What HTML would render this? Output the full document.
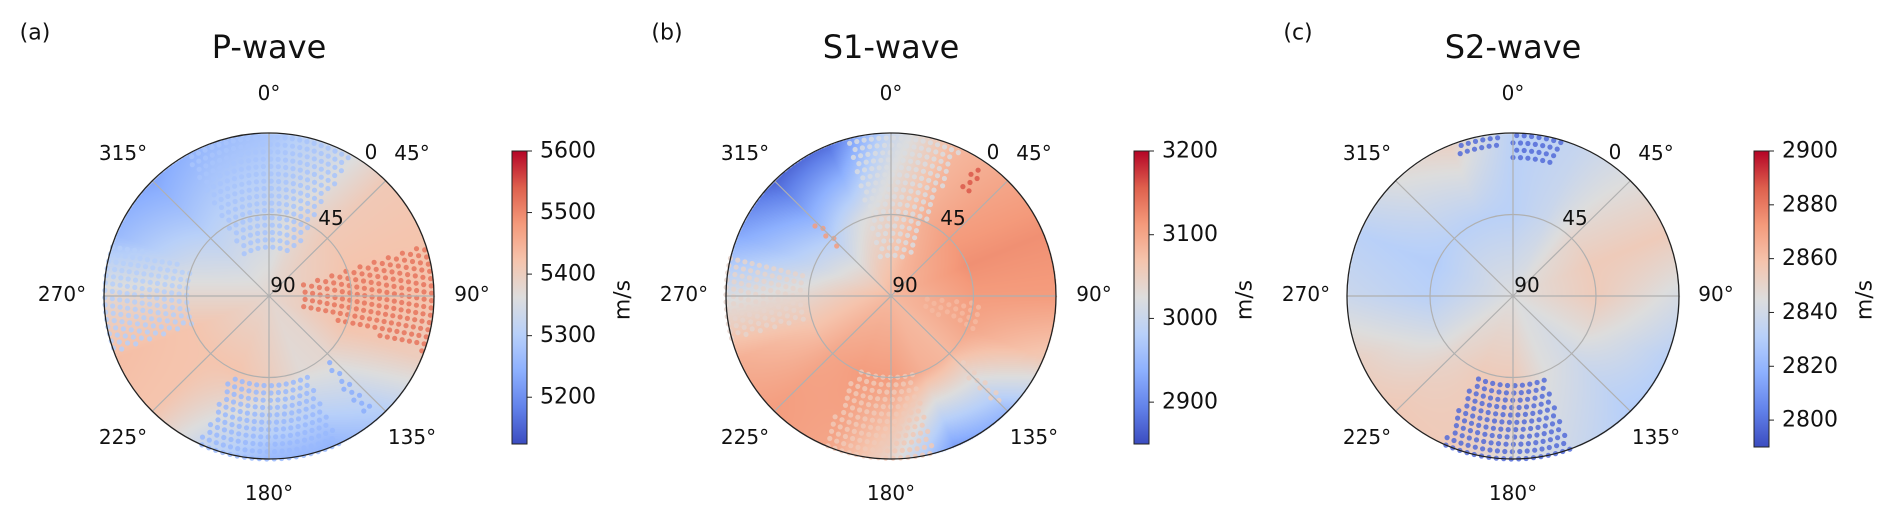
<!DOCTYPE html>
<html><head><meta charset="utf-8">
<style>
html,body{margin:0;padding:0;background:#fff;}
#wrap{position:relative;width:1892px;height:529px;overflow:hidden;}
canvas,svg{position:absolute;left:0;top:0;}
text{font-family:"DejaVu Sans","Liberation Sans",sans-serif;fill:#111;}
</style></head>
<body>
<div id="wrap">
<canvas id="cv" width="1892" height="529"></canvas>
<svg id="sv" width="1892" height="529" xmlns="http://www.w3.org/2000/svg"></svg>
</div>
<script>
// ---- data ----
const azGrid = [0,22.5,45,67.5,90,112.5,135,157.5,180,202.5,225,247.5,270,292.5,315,337.5];
const pCenter = 5380;
const pMid  = [5330,5380,5410,5420,5430,5420,5380,5370,5400,5420,5420,5420,5380,5340,5310,5320];
const pEdge = [5280,5330,5410,5420,5420,5400,5300,5250,5260,5320,5420,5430,5380,5260,5230,5260];
const s1Center = 3080;
const s1Mid  = [3050,3090,3110,3120,3110,3100,3080,3090,3110,3110,3100,3070,3040,3000,2980,3020];
const s1Edge = [3000,3080,3100,3120,3110,3060,2950,2920,3040,3100,3110,3090,3020,2930,2870,2880];
const s2Center = 2845;
const s2Mid  = [2832,2838,2850,2855,2855,2848,2840,2845,2855,2855,2850,2840,2832,2830,2832,2832];
const s2Edge = [2832,2836,2845,2855,2842,2832,2830,2838,2845,2855,2856,2852,2838,2832,2845,2852];
// scatter patches: [azStart, azEnd, rStart, rEnd, value]
const pPatches = [[330,390,0.3,1,5280],[250,290,0.5,1,5300],[155,205,0.55,1,5260],[72,110,0.22,1,5520],[138,142,0.55,0.95,5240]];
const s1Patches = [[345,385,0.25,1,3020],[255,285,0.55,1,3040],[95,112,0.22,0.55,3080],[165,205,0.5,1,3060],[313,317,0.45,0.65,3110],[133,137,0.6,0.95,3050],[33,37,0.8,0.95,3160]];
const s2Patches = [[0,18,0.85,1,2798],[340,356,0.93,1,2798],[160,205,0.55,1,2798]];
const pTicks = [5200,5300,5400,5500,5600];
const s1Ticks = [2900,3000,3100,3200];
const s2Ticks = [2800,2820,2840,2860,2880,2900];

const panels = [
 {id:'p',label:'(a)',title:'P-wave',cx:269,cy:296,rx:165,ry:163,center:pCenter,mid:pMid,edge:pEdge,patches:pPatches,vmin:5124,vmax:5600,ticks:pTicks,cbx:512,cbTop:151,cbBot:444,labx:35},
 {id:'s1',label:'(b)',title:'S1-wave',cx:891,cy:296,rx:165,ry:163,center:s1Center,mid:s1Mid,edge:s1Edge,patches:s1Patches,vmin:2850,vmax:3200,ticks:s1Ticks,cbx:1134,cbTop:151,cbBot:444,labx:667},
 {id:'s2',label:'(c)',title:'S2-wave',cx:1513,cy:296,rx:166,ry:163,center:s2Center,mid:s2Mid,edge:s2Edge,patches:s2Patches,vmin:2790,vmax:2900,ticks:s2Ticks,cbx:1754,cbTop:151,cbBot:447,labx:1298}
];
const cmStops=[[59,76,192],[98,130,234],[141,176,254],[184,208,249],[221,221,221],[245,196,173],[244,154,123],[222,96,77],[180,4,38]];
function cmap(t){t=Math.max(0,Math.min(1,t));const f=t*8,i=Math.min(7,Math.floor(f)),u=f-i;const a=cmStops[i],b=cmStops[i+1];
 return [0,1,2].map(k=>Math.round(a[k]+(b[k]-a[k])*u));}
function fieldVal(P,az,r){
 const n=azGrid.length, s=az/22.5, i=Math.floor(s)%n, j=(i+1)%n, u=s-Math.floor(s);
 const m=P.mid[i]*(1-u)+P.mid[j]*u, e=P.edge[i]*(1-u)+P.edge[j]*u;
 if(r<=0.5) return P.center+(m-P.center)*(r/0.5);
 return m+(e-m)*((r-0.5)/0.5);
}
const ctx=document.getElementById('cv').getContext('2d');
const img=ctx.createImageData(1892,529);
panels.forEach(P=>{
 for(let y=Math.floor(P.cy-P.ry-1);y<=P.cy+P.ry+1;y++)for(let x=Math.floor(P.cx-P.rx-1);x<=P.cx+P.rx+1;x++){
  const dx=(x-P.cx)/P.rx, dy=(y-P.cy)/P.ry, r=Math.hypot(dx,dy); if(r>1)continue;
  let az=Math.atan2(dx,-dy)*180/Math.PI; if(az<0)az+=360;
  const c=cmap((fieldVal(P,az,r)-P.vmin)/(P.vmax-P.vmin)); const k=(y*1892+x)*4;
  img.data[k]=c[0];img.data[k+1]=c[1];img.data[k+2]=c[2];img.data[k+3]=255;}
});
ctx.putImageData(img,0,0);
const NS='http://www.w3.org/2000/svg', sv=document.getElementById('sv');
function el(tag,attrs,parent){const e=document.createElementNS(NS,tag);for(const k in attrs)e.setAttribute(k,attrs[k]);(parent||sv).appendChild(e);return e;}
function txt(s,x,y,size,parent,anchor){const t=el('text',{x:x,y:y,'font-size':size,'text-anchor':anchor||'middle','dominant-baseline':'central'},parent);t.textContent=s;return t;}
function pos(P,az,r){const a=az*Math.PI/180;return [P.cx+r*P.rx*Math.sin(a),P.cy-r*P.ry*Math.cos(a)];}
const defs=el('defs',{});
panels.forEach(P=>{
 const g=el('g',{});
 
 
 const dots=el('g',{},g);
 
 
 P.patches.forEach(pt=>{
  const c=cmap((pt[4]-P.vmin)/(P.vmax-P.vmin));
  let ri=0;
  for(let r=pt[2];r<=pt[3]+1e-6;r+=0.045){
   const step=Math.max(1.2,(0.045/Math.max(r,0.05))*180/Math.PI);
   for(let az=pt[0]+(ri%2)*step/2;az<=pt[1];az+=step){
    const p=pos(P,az%360,r);
    const d=el('circle',{cx:p[0].toFixed(1),cy:p[1].toFixed(1),r:2.6,fill:'rgb('+c.join(',')+')','fill-opacity':0.85},dots);
    
    
   }
   ri++;
  }
 });
 for(let a=0;a<360;a+=45){const p=pos(P,a,1);const l=el('line',{x1:P.cx,y1:P.cy,x2:p[0],y2:p[1],stroke:'#b0b0b0','stroke-width':1.2},g);
  
  }
 const ic=el('ellipse',{cx:P.cx,cy:P.cy,rx:P.rx/2,ry:P.ry/2,fill:'none',stroke:'#b0b0b0','stroke-width':1.2},g);
 
 
 const oc=el('ellipse',{cx:P.cx,cy:P.cy,rx:P.rx,ry:P.ry,fill:'none',stroke:'#222','stroke-width':1.3},g);
 
 
 const labs=[['0°',0,-203],['45°',143,-143],['90°',203,-2],['135°',143,141],['180°',0,197],['225°',-146,141],['270°',-207,-2],['315°',-146,-143]];
 labs.forEach(L=>{const t=txt(L[0],P.cx+L[1],P.cy+L[2],20,g);
  
  });
 [['0',102,-144],['45',62,-78],['90',14,-11]].forEach(L=>{const t=txt(L[0],P.cx+L[1],P.cy+L[2],20,g);
  
  });
 const ti=txt(P.title,P.cx,47,32,g);
 
 
 const pl=txt(P.label,P.labx,33,22,g);
 pl.setAttribute('font-family','Liberation Sans, sans-serif');
 
 
 const gid='grad-'+P.id;const lg=el('linearGradient',{id:gid,x1:0,y1:1,x2:0,y2:0},defs);
 for(let i=0;i<=16;i++){const c=cmap(i/16);el('stop',{offset:(i/16),'stop-color':'rgb('+c.join(',')+')'},lg);}
 const cb=el('rect',{x:P.cbx,y:P.cbTop,width:15,height:P.cbBot-P.cbTop,fill:'url(#'+gid+')',stroke:'#222','stroke-width':1},g);
 
 
 P.ticks.forEach(v=>{const y=P.cbBot-(v-P.vmin)/(P.vmax-P.vmin)*(P.cbBot-P.cbTop);
  el('line',{x1:P.cbx+15,y1:y,x2:P.cbx+20,y2:y,stroke:'#222','stroke-width':1},g);
  const t=txt(String(v),P.cbx+28,y,22,g,'start');
  
  });
 const ux=P.cbx+111, u=txt('m/s',0,0,22,g);
 u.setAttribute('transform','translate('+ux+',300) rotate(-90)');
 
 
});
</script>
</body></html>
